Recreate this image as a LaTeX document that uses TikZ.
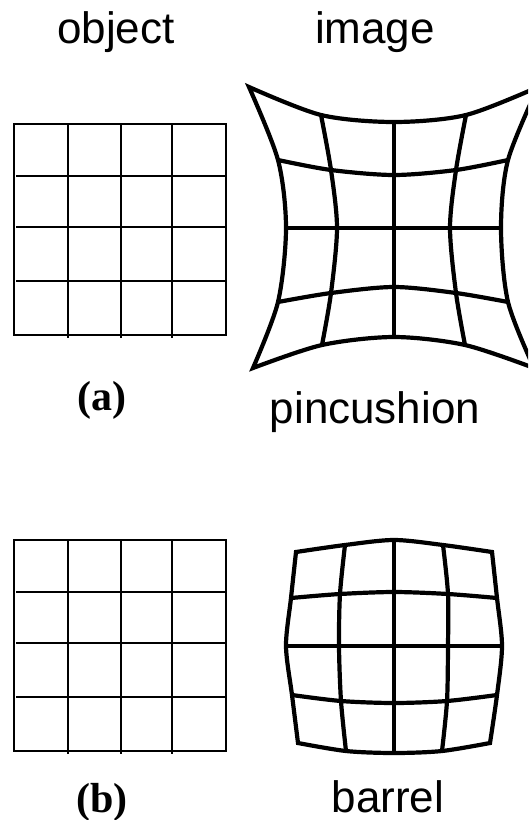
\documentclass[tikz,border=0pt]{standalone}
\usepackage{fontspec}
\newfontfamily\arialf{Liberation Sans}
\newfontfamily\timesf{Liberation Serif}
\begin{document}
\begin{tikzpicture}[x=1pt,y=-1pt,
  thingrid/.style={line width=1.7pt},
  thickgrid/.style={line width=4.2pt, line join=miter},
  sanslabel/.style={font={\arialf\fontsize{44}{50}\selectfont}, inner sep=0pt, anchor=base},
  seriflabel/.style={font={\timesf\bfseries\fontsize{42}{48}\selectfont}, inner sep=0pt, anchor=base}]
\useasboundingbox (0,0) rectangle (528,820);
\clip (0,0) rectangle (528,820);

% labels
\node[sanslabel] (obj) at (116,43) {object};
\node[sanslabel] (img) at (375,43) {image};
\node[seriflabel] (la) at (102,410) {(a)};
\node[sanslabel] (pin) at (375,423) {pincushion};
\node[seriflabel] (lb) at (102,812) {(b)};
\node[sanslabel] (bar) at (388,812) {barrel};

% object grids
\foreach \oy in {0,416}{
  \begin{scope}[shift={(0,\oy)}]
    \draw[thingrid] (14,124) rectangle (226,335);
    \foreach \x in {68,121,172} \draw[thingrid] (\x,124) -- (\x,338);
    \foreach \y in {176,227,281} \draw[thingrid] (16,\y) -- (226,\y);
  \end{scope}
}

% pincushion
\draw[thickgrid] plot[smooth] coordinates {(249,87) (321,115) (394,122) (466,115) (538,87)}
  -- plot[smooth] coordinates {(538,87) (508,160) (501,228) (508,302) (534,368)}
  -- plot[smooth] coordinates {(534,368) (465,345) (394,337) (322,345) (253,368)}
  -- plot[smooth] coordinates {(253,368) (278,302) (286,228) (278,160) (249,87)} -- cycle;
\draw[thickgrid] plot[smooth] coordinates {(278,160) (331,170) (394,175) (456,170) (508,160)};
\draw[thickgrid] (286,228) -- (501,228);
\draw[thickgrid] plot[smooth] coordinates {(278,302) (331,293) (394,287) (456,293) (508,302)};
\draw[thickgrid] plot[smooth] coordinates {(321,115) (331,170) (337,228) (331,293) (322,345)};
\draw[thickgrid] (394,122) -- (394,337);
\draw[thickgrid] plot[smooth] coordinates {(466,115) (456,170) (450,228) (456,293) (465,345)};

% barrel
\draw[thickgrid] plot[smooth] coordinates {(296,552) (345,545) (394,540) (443,545) (492,552)}
  -- plot[smooth] coordinates {(492,552) (497,598) (502,646) (497,695) (490,743)}
  -- plot[smooth] coordinates {(490,743) (442,751) (394,753) (346,751) (298,743)}
  -- plot[smooth] coordinates {(298,743) (292,695) (286,646) (291,598) (296,552)} -- cycle;
\draw[thickgrid] plot[smooth] coordinates {(291,598) (340,594) (394,592) (448,594) (497,598)};
\draw[thickgrid] (286,646) -- (502,646);
\draw[thickgrid] plot[smooth] coordinates {(292,695) (341,701) (394,703) (447,701) (497,695)};
\draw[thickgrid] plot[smooth] coordinates {(345,545) (340,594) (339,646) (341,701) (346,751)};
\draw[thickgrid] (394,540) -- (394,753);
\draw[thickgrid] plot[smooth] coordinates {(443,545) (448,594) (448,646) (447,701) (442,751)};
\end{tikzpicture}
\end{document}
